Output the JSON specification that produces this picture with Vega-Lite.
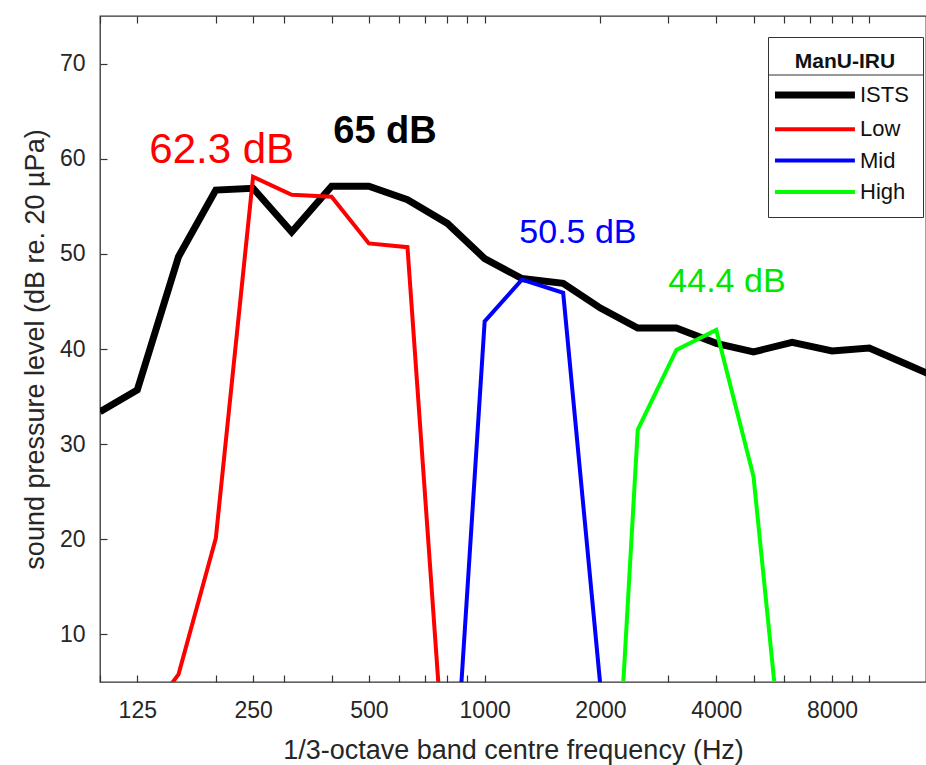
{
  "$schema": "https://vega.github.io/schema/vega-lite/v6.json",
  "width": 826,
  "height": 666,
  "autosize": {"type": "none"},
  "padding": {"left": 100, "top": 16, "right": 0, "bottom": 83},
  "background": "white",
  "config": {
    "font": "Liberation Sans",
    "view": {"stroke": "#333333", "strokeWidth": 1.3},
    "axis": {
      "grid": false,
      "domain": false,
      "tickColor": "#333333",
      "tickWidth": 1.2,
      "labelColor": "#262626",
      "titleColor": "#262626",
      "labelFont": "Liberation Sans",
      "titleFont": "Liberation Sans",
      "titleFontWeight": "normal"
    }
  },
  "datasets": {
    "spectra": [
      {"series": "ISTS", "freq": 100, "level": 33.4},
      {"series": "ISTS", "freq": 125, "level": 35.7},
      {"series": "ISTS", "freq": 160, "level": 49.7},
      {"series": "ISTS", "freq": 200, "level": 56.7},
      {"series": "ISTS", "freq": 250, "level": 56.9},
      {"series": "ISTS", "freq": 315, "level": 52.3},
      {"series": "ISTS", "freq": 400, "level": 57.1},
      {"series": "ISTS", "freq": 500, "level": 57.1},
      {"series": "ISTS", "freq": 630, "level": 55.7},
      {"series": "ISTS", "freq": 800, "level": 53.2},
      {"series": "ISTS", "freq": 1000, "level": 49.5},
      {"series": "ISTS", "freq": 1250, "level": 47.4},
      {"series": "ISTS", "freq": 1600, "level": 46.9},
      {"series": "ISTS", "freq": 2000, "level": 44.3},
      {"series": "ISTS", "freq": 2500, "level": 42.2},
      {"series": "ISTS", "freq": 3150, "level": 42.2},
      {"series": "ISTS", "freq": 4000, "level": 40.6},
      {"series": "ISTS", "freq": 5000, "level": 39.7},
      {"series": "ISTS", "freq": 6300, "level": 40.7},
      {"series": "ISTS", "freq": 8000, "level": 39.8},
      {"series": "ISTS", "freq": 10000, "level": 40.1},
      {"series": "ISTS", "freq": 12500, "level": 38.4},
      {"series": "ISTS", "freq": 16000, "level": 36.5},
      {"series": "Low", "freq": 125, "level": 0},
      {"series": "Low", "freq": 160, "level": 5.8},
      {"series": "Low", "freq": 200, "level": 20.1},
      {"series": "Low", "freq": 250, "level": 58.1},
      {"series": "Low", "freq": 315, "level": 56.2},
      {"series": "Low", "freq": 400, "level": 56.0},
      {"series": "Low", "freq": 500, "level": 51.1},
      {"series": "Low", "freq": 630, "level": 50.7},
      {"series": "Low", "freq": 800, "level": -8.5},
      {"series": "Mid", "freq": 800, "level": -18},
      {"series": "Mid", "freq": 1000, "level": 42.9},
      {"series": "Mid", "freq": 1250, "level": 47.3},
      {"series": "Mid", "freq": 1600, "level": 45.9},
      {"series": "Mid", "freq": 2000, "level": 4.5},
      {"series": "Mid", "freq": 2500, "level": -20},
      {"series": "High", "freq": 2000, "level": -37},
      {"series": "High", "freq": 2500, "level": 31.5},
      {"series": "High", "freq": 3150, "level": 39.9},
      {"series": "High", "freq": 4000, "level": 42.0},
      {"series": "High", "freq": 5000, "level": 26.6},
      {"series": "High", "freq": 6300, "level": -13.6}
    ],
    "notes": [
      {"series": "Low", "text": "62.3 dB", "freq": 207.2, "level": 59.55},
      {"series": "ISTS", "text": "65 dB", "freq": 550.7, "level": 61.65},
      {"series": "Mid", "text": "50.5 dB", "freq": 1748, "level": 51.14},
      {"series": "High", "text": "44.4 dB", "freq": 4265, "level": 45.99}
    ],
    "separator": [{"x1": 5451, "x2": 13790, "y": 68.8}]
  },
  "layer": [
    {
      "data": {"name": "spectra"},
      "mark": {"type": "line", "clip": true, "strokeJoin": "miter", "strokeCap": "butt"},
      "encoding": {
        "x": {
          "field": "freq", "type": "quantitative",
          "scale": {"type": "log", "domain": [100, 14040], "nice": false},
          "axis": {
            "orient": "bottom",
            "values": [125, 250, 500, 1000, 2000, 4000, 8000],
            "labelExpr": "'' + datum.value",
            "labelOverlap": false,
            "labelFlush": false,
            "ticks": false,
            "labelPadding": 17,
            "labelFontSize": 23,
            "title": "1/3-octave band centre frequency (Hz)",
            "titleFontSize": 27,
            "titlePadding": 15
          }
        },
        "y": {
          "field": "level", "type": "quantitative",
          "scale": {"domain": [5, 75], "nice": false, "zero": false},
          "axis": {
            "orient": "left",
            "values": [10, 20, 30, 40, 50, 60, 70],
            "ticks": false,
            "labelPadding": 15,
            "labelFontSize": 23,
            "title": "sound pressure level (dB re. 20 µPa)",
            "titleFontSize": 27,
            "titleX": -57,
            "titleY": 333,
            "titleAngle": -90,
            "titleAlign": "center",
            "titleBaseline": "alphabetic"
          }
        },
        "color": {
          "field": "series", "type": "nominal",
          "scale": {"domain": ["ISTS", "Low", "Mid", "High"], "range": ["#000000", "#ff0000", "#0000ff", "#00ff00"]},
          "legend": {
            "orient": "none",
            "legendX": 668,
            "legendY": 21,
            "title": "ManU-IRU",
            "titleFontSize": 21,
            "titleFontWeight": "bold",
            "titleColor": "#111111",
            "titleAnchor": "middle",
            "titlePadding": 12,
            "strokeColor": "#333333",
            "padding": 14,
            "symbolType": "M-1.17,0H4.02",
            "symbolSize": 949,
            "symbolStrokeWidth": 4,
            "labelFontSize": 22,
            "labelColor": "#111111",
            "labelOffset": 56,
            "rowPadding": 9.3,
            "encode": {"symbols": {"update": {"strokeWidth": {"signal": "datum.value === 'ISTS' ? 7 : 4"}}}}
          }
        },
        "strokeWidth": {"condition": {"test": "datum.series === 'ISTS'", "value": 7}, "value": 4}
      }
    },
    {
      "data": {"name": "separator"},
      "mark": {"type": "rule", "color": "#333333", "strokeWidth": 1.2},
      "encoding": {
        "x": {
          "field": "x1", "type": "quantitative",
          "scale": {"type": "log", "domain": [100, 14040], "nice": false},
          "axis": {
            "orient": "bottom",
            "values": [100, 125, 200, 250, 300, 400, 500, 600, 700, 800, 900, 1000, 2000, 3000, 4000, 5000, 6000, 7000, 8000, 9000, 10000],
            "labels": false,
            "ticks": true,
            "offset": -7,
            "tickSize": 7,
            "title": null
          }
        },
        "x2": {"field": "x2"},
        "y": {
          "field": "y", "type": "quantitative",
          "scale": {"domain": [5, 75], "nice": false, "zero": false},
          "axis": {
            "orient": "left",
            "values": [10, 20, 30, 40, 50, 60, 70],
            "labels": false,
            "ticks": true,
            "offset": -7,
            "tickSize": 7,
            "title": null
          }
        }
      }
    },
    {
      "data": {"name": "notes"},
      "transform": [{"filter": "datum.series === 'Low'"}],
      "mark": {"type": "text", "align": "center", "baseline": "alphabetic", "fontSize": 42, "color": "#ff0000"},
      "encoding": {
        "x": {
          "field": "freq", "type": "quantitative",
          "axis": {
            "orient": "top",
            "values": [100, 125, 200, 250, 300, 400, 500, 600, 700, 800, 900, 1000, 2000, 3000, 4000, 5000, 6000, 7000, 8000, 9000, 10000],
            "labels": false,
            "ticks": true,
            "offset": -7,
            "tickSize": 7,
            "title": null
          }
        },
        "y": {"field": "level", "type": "quantitative", "axis": null},
        "text": {"field": "text"}
      }
    },
    {
      "data": {"name": "notes"},
      "transform": [{"filter": "datum.series === 'ISTS'"}],
      "mark": {"type": "text", "align": "center", "baseline": "alphabetic", "fontSize": 38, "fontWeight": "bold", "color": "#000000"},
      "encoding": {
        "x": {"field": "freq", "type": "quantitative", "axis": null},
        "y": {"field": "level", "type": "quantitative", "axis": null},
        "text": {"field": "text"}
      }
    },
    {
      "data": {"name": "notes"},
      "transform": [{"filter": "datum.series === 'Mid'"}],
      "mark": {"type": "text", "align": "center", "baseline": "alphabetic", "fontSize": 34, "color": "#0000ff"},
      "encoding": {
        "x": {"field": "freq", "type": "quantitative", "axis": null},
        "y": {"field": "level", "type": "quantitative", "axis": null},
        "text": {"field": "text"}
      }
    },
    {
      "data": {"name": "notes"},
      "transform": [{"filter": "datum.series === 'High'"}],
      "mark": {"type": "text", "align": "center", "baseline": "alphabetic", "fontSize": 34, "color": "#00e600"},
      "encoding": {
        "x": {"field": "freq", "type": "quantitative", "axis": null},
        "y": {"field": "level", "type": "quantitative", "axis": null},
        "text": {"field": "text"}
      }
    }
  ],
  "resolve": {"axis": {"x": "independent", "y": "independent"}}
}
